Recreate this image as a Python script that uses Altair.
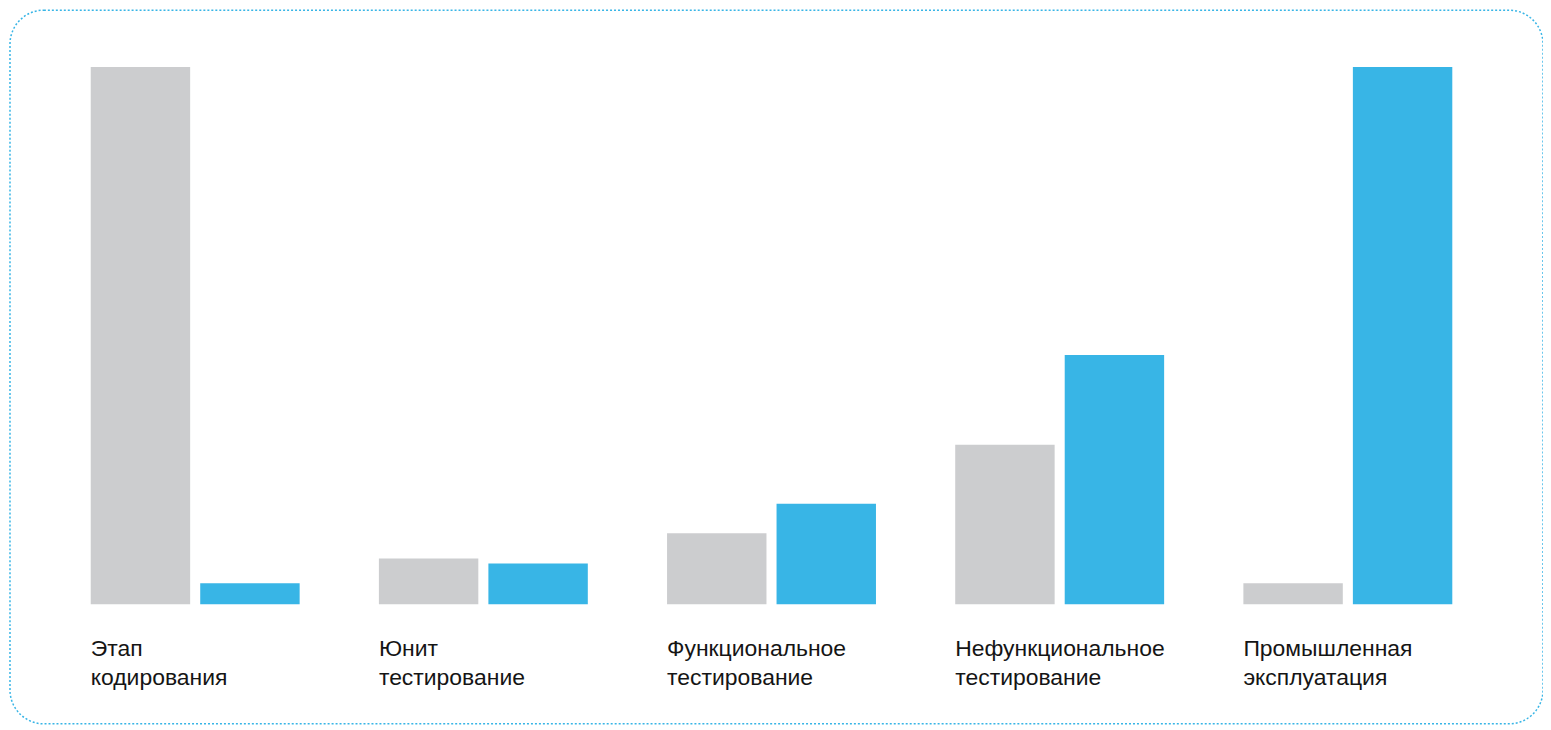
import altair as alt
import pandas as pd

stages = [
    "Этап\nкодирования",
    "Юнит\nтестирование",
    "Функциональное\nтестирование",
    "Нефункциональное\nтестирование",
    "Промышленная\nэксплуатация",
]
series = ["A", "B"]
values_a = [100.0, 8.5, 13.2, 29.7, 3.9]
values_b = [3.9, 7.6, 18.7, 46.4, 100.0]
colors = ["#CCCDCF", "#38B5E6"]

rows = []
for i, s in enumerate(stages):
    rows.append({"stage": s, "series": series[0], "value": values_a[i]})
    rows.append({"stage": s, "series": series[1], "value": values_b[i]})
df = pd.DataFrame(rows)
labels = pd.DataFrame({"stage": stages})

W, H = 1538, 716

xscale = alt.Scale(domain=stages, range=[81, 1447], paddingInner=0.275, paddingOuter=0, round=False)

bars = alt.Chart(df).mark_bar().encode(
    x=alt.X("stage:N", scale=xscale, axis=None, sort=stages),
    xOffset=alt.XOffset("series:N", scale=alt.Scale(paddingInner=0.092, paddingOuter=0, round=False)),
    y=alt.Y("value:Q", scale=alt.Scale(domain=[0, 100], range=[596, 57]), axis=None),
    color=alt.Color("series:N", scale=alt.Scale(domain=series, range=colors), legend=None),
)

text = alt.Chart(labels).mark_text(
    align="left", baseline="alphabetic", font="Liberation Sans", fontSize=23,
    lineBreak="\n", lineHeight=29, color="#151515",
).encode(
    x=alt.X("stage:N", scale=xscale, axis=None, sort=stages, bandPosition=0),
    y=alt.value(648),
    text="stage:N",
)

chart = alt.layer(bars, text).properties(
    width=W, height=H,
    autosize=alt.AutoSizeParams(type="none"),
    padding={"left": 2, "top": 1, "right": 0, "bottom": 0},
    background="white",
).configure_view(
    stroke="#38B5E6", strokeDash=[2, 2], strokeWidth=1.5, cornerRadius=34,
)

chart.save("out.html", embed_options={"renderer": "svg", "actions": False})
